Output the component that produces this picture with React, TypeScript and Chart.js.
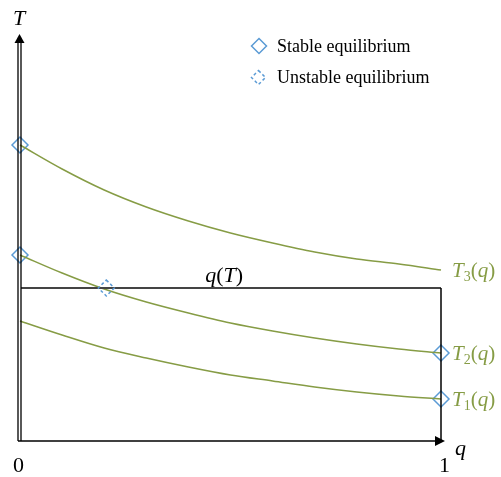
import React, { useEffect, useRef } from "react";
import { Chart, registerables } from "chart.js";

Chart.register(...registerables);

// q positions (0..1) and T values (arbitrary units, axis from 0 to 4.03)
const qGrid = [0, 0.1, 0.2, 0.3, 0.4, 0.5, 0.6, 0.7, 0.8, 0.9, 1];
const vT3 = [2.96, 2.72, 2.51, 2.34, 2.2, 2.08, 1.98, 1.89, 1.82, 1.77, 1.71];
const vT2 = [1.86, 1.68, 1.52, 1.39, 1.28, 1.18, 1.1, 1.03, 0.97, 0.92, 0.88];
const vT1 = [1.2, 1.06, 0.93, 0.83, 0.74, 0.66, 0.6, 0.54, 0.49, 0.45, 0.42];
const qOfT = 1.53; // level of the q(T) boundary
const stableQ = [0, 0, 1, 1];
const stableT = [2.96, 1.86, 0.88, 0.42];
const unstableQ = [0.205];
const unstableT = [1.53];
const curveLabels = ["3", "2", "1"];
const legendLabels = ["Stable equilibrium", "Unstable equilibrium"];

const GREEN = "#869c45";
const BLUE = "#5b9bd5";
const SERIF = "'Liberation Serif', 'DejaVu Serif', serif";

function pts(xs: number[], ys: number[]) {
  return xs.map((x, i) => ({ x, y: ys[i] }));
}

function diamond(ctx: CanvasRenderingContext2D, x: number, y: number, r: number, dashed: boolean) {
  ctx.save();
  ctx.strokeStyle = BLUE;
  ctx.lineWidth = 1.5;
  if (dashed) ctx.setLineDash([3, 2.5]);
  ctx.beginPath();
  ctx.moveTo(x, y - r);
  ctx.lineTo(x + r, y);
  ctx.lineTo(x, y + r);
  ctx.lineTo(x - r, y);
  ctx.closePath();
  ctx.stroke();
  ctx.restore();
}

function parts(ctx: CanvasRenderingContext2D, x: number, y: number, items: [string, string, number][], color: string) {
  ctx.save();
  ctx.fillStyle = color;
  ctx.textBaseline = "alphabetic";
  ctx.textAlign = "left";
  let cx = x;
  for (const [txt, font, dy] of items) {
    ctx.font = font;
    ctx.fillText(txt, cx, y + dy);
    cx += ctx.measureText(txt).width;
  }
  ctx.restore();
}

const overlay = {
  id: "overlay",
  afterDatasetsDraw(chart: any) {
    const ctx: CanvasRenderingContext2D = chart.ctx;
    const xs = chart.scales.x;
    const ys = chart.scales.y;
    const x0 = xs.getPixelForValue(0);
    const x1 = xs.getPixelForValue(1);
    const y0 = ys.getPixelForValue(0);
    const yTop = ys.getPixelForValue(ys.max) - 4;
    const yq = ys.getPixelForValue(qOfT);

    ctx.save();
    // q(T) box
    ctx.strokeStyle = "#444";
    ctx.lineWidth = 2;
    ctx.beginPath();
    ctx.moveTo(x0 + 1, yq);
    ctx.lineTo(x1, yq);
    ctx.stroke();
    ctx.strokeStyle = "#000";
    ctx.lineWidth = 1.5;
    ctx.beginPath();
    ctx.moveTo(x1, yq);
    ctx.lineTo(x1, y0);
    ctx.stroke();

    // axes (double vertical line)
    ctx.strokeStyle = "#000";
    ctx.lineWidth = 1.3;
    ctx.beginPath();
    ctx.moveTo(x0 - 2, y0);
    ctx.lineTo(x0 - 2, yTop + 6);
    ctx.moveTo(x0 + 1, y0);
    ctx.lineTo(x0 + 1, yTop + 6);
    ctx.stroke();
    ctx.lineWidth = 1.5;
    ctx.beginPath();
    ctx.moveTo(x0 - 2, y0);
    ctx.lineTo(x1 - 4, y0);
    ctx.stroke();
    ctx.fillStyle = "#000";
    ctx.beginPath();
    ctx.moveTo(x0 - 0.5, yTop);
    ctx.lineTo(x0 - 5.5, yTop + 9);
    ctx.lineTo(x0 + 4.5, yTop + 9);
    ctx.closePath();
    ctx.fill();
    ctx.beginPath();
    ctx.moveTo(x1 + 4, y0);
    ctx.lineTo(x1 - 6, y0 - 5);
    ctx.lineTo(x1 - 6, y0 + 5);
    ctx.closePath();
    ctx.fill();
    ctx.restore();

    // unstable markers
    unstableQ.forEach((q, i) => {
      diamond(ctx, xs.getPixelForValue(q), ys.getPixelForValue(unstableT[i]), 8, true);
    });

    // axis texts
    const it = `italic 22px ${SERIF}`;
    const rg = `22px ${SERIF}`;
    parts(ctx, x0 - 7, 25, [["T", it, 0]], "#000");
    parts(ctx, x1 + 14, y0 + 14, [["q", it, 0]], "#000");
    parts(ctx, x0 - 7, y0 + 31, [["0", rg, 0]], "#000");
    parts(ctx, x1 - 2, y0 + 31, [["1", rg, 0]], "#000");
    parts(ctx, xs.getPixelForValue(0.44), yq - 6, [["q", it, 0], ["(", rg, 0], ["T", it, 0], [")", rg, 0]], "#000");

    // curve labels
    const ends = [vT3[vT3.length - 1], vT2[vT2.length - 1], vT1[vT1.length - 1]];
    const lit = `italic 21px ${SERIF}`;
    const lrg = `21px ${SERIF}`;
    ends.forEach((v, i) => {
      const py = ys.getPixelForValue(v);
      parts(
        ctx,
        x1 + 11,
        py + 7,
        [["T", lit, 0], [curveLabels[i], `14px ${SERIF}`, 4], ["(", lrg, 0], ["q", lit, 0], [")", lrg, 0]],
        GREEN
      );
    });

    // legend
    diamond(ctx, 259, 46, 7.5, false);
    diamond(ctx, 258.5, 77.5, 7, true);
    parts(ctx, 277, 52, [[legendLabels[0], `18px ${SERIF}`, 0]], "#000");
    parts(ctx, 277, 83, [[legendLabels[1], `18px ${SERIF}`, 0]], "#000");
  },
};

export default function App() {
  const ref = useRef<HTMLCanvasElement>(null);
  useEffect(() => {
    if (!ref.current) return;
    const curve = (xs: number[], ys: number[]) => ({
      data: pts(xs, ys),
      borderColor: GREEN,
      borderWidth: 1.5,
      pointRadius: 0,
      fill: false,
      cubicInterpolationMode: "monotone" as const,
      showLine: true,
    });
    const chart = new Chart(ref.current, {
      type: "scatter",
      data: {
        datasets: [
          curve(qGrid, vT3),
          curve(qGrid, vT2),
          curve(qGrid, vT1),
          {
            data: pts(stableQ, stableT),
            showLine: false,
            pointStyle: "rectRot",
            pointRadius: 8,
            pointBorderColor: BLUE,
            pointBackgroundColor: "rgba(0,0,0,0)",
            pointBorderWidth: 1.5,
          } as any,
        ],
      },
      options: {
        responsive: false,
        animation: false,
        clip: false as any,
        layout: { padding: { left: 20, right: 60, top: 38, bottom: 36 } },
        plugins: { legend: { display: false }, tooltip: { enabled: false } },
        scales: {
          x: { type: "linear", min: 0, max: 1, display: false },
          y: { type: "linear", min: 0, max: 4.03, display: false },
        },
      },
      plugins: [overlay],
    });
    return () => chart.destroy();
  }, []);
  return (
    <div style={{ position: "absolute", left: 0, top: 0, width: 501, height: 477, background: "#fff" }}>
      <canvas ref={ref} width={501} height={477} />
    </div>
  );
}
